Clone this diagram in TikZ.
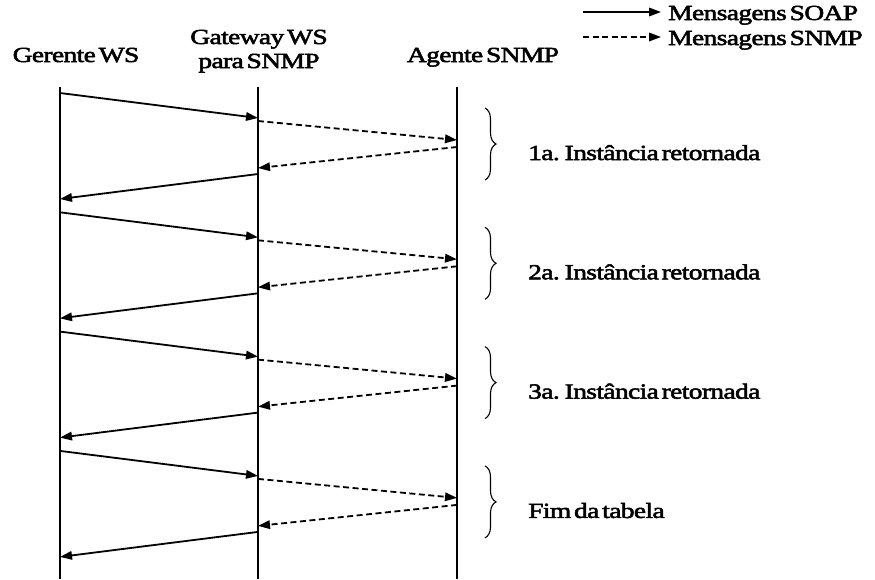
\documentclass[tikz,border=0pt]{standalone}
\usepackage{fontspec}
\setmainfont{Liberation Serif}[FakeStretch=1.28, LetterSpace=-3, WordSpace=0.45, FakeBold=2.5]
\usetikzlibrary{arrows.meta,decorations.pathreplacing}
\tikzset{
	soap/.style = {line width=1.8pt, -{Triangle[length=12pt,width=8.5pt]}},
	snmp/.style = {soap, dash pattern=on 6pt off 3.5pt},
	vida/.style = {line width=1.3pt},
	rotulo/.style = {font=\fontsize{21.5}{24}\selectfont, inner sep=0pt},
	chave/.style = {decorate, decoration={brace, amplitude=11pt}, line width=1.1pt}
}
\begin{document}
\begin{tikzpicture} [x = 1pt, y = -1pt]
	\useasboundingbox (0,0) rectangle (875,579);
	% participantes
	\node [rotulo, anchor = base] (gerente) at (76,62) {Gerente WS};
	\node [rotulo, anchor = base] (gateway) at (259,44) {Gateway WS};
	\node [rotulo, anchor = base] (gateway2) at (259,68) {para SNMP};
	\node [rotulo, anchor = base] (agente) at (483,62) {Agente SNMP};
	% linhas de vida
	\coordinate (ger0) at (60,87);
	\coordinate (ger1) at (60,579);
	\coordinate (gat0) at (258,87);
	\coordinate (gat1) at (258,579);
	\coordinate (age0) at (457,87);
	\coordinate (age1) at (457,579);
	\draw [vida] (ger0) -- (ger1);
	\draw [vida] (gat0) -- (gat1);
	\draw [vida] (age0) -- (age1);
	% legenda
	\coordinate (leg0) at (583,12);
	\coordinate (leg1) at (661,12);
	\coordinate (leg2) at (583,37);
	\coordinate (leg3) at (661,37);
	\draw [soap] (leg0) -- (leg1);
	\draw [snmp] (leg2) -- (leg3);
	\node [rotulo, anchor = base west] (soaptxt) at (668,20) {Mensagens SOAP};
	\node [rotulo, anchor = base west] (snmptxt) at (668,45) {Mensagens SNMP};
	% ciclos de pedido e resposta
	\foreach \i/\txt in {0/1a. Instância retornada, 1/2a. Instância retornada, 2/3a. Instância retornada, 3/Fim da tabela} {
		\pgfmathsetmacro{\ybase}{93+119.3*\i}
		\coordinate (p\i a) at (60,\ybase);
		\coordinate (p\i b) at (258,\ybase+25);
		\coordinate (p\i c) at (258,\ybase+28);
		\coordinate (p\i d) at (457,\ybase+47);
		\coordinate (p\i e) at (457,\ybase+54);
		\coordinate (p\i f) at (258,\ybase+75);
		\coordinate (p\i g) at (258,\ybase+81);
		\coordinate (p\i h) at (60,\ybase+106);
		\coordinate (c\i a) at (485,\ybase+15);
		\coordinate (c\i b) at (485,\ybase+87);
		\draw [soap] (p\i a) -- (p\i b);
		\draw [snmp] (p\i c) -- (p\i d);
		\draw [snmp] (p\i e) -- (p\i f);
		\draw [soap] (p\i g) -- (p\i h);
		\draw [chave] (c\i a) -- (c\i b);
		\node [rotulo, anchor = base west] (r\i) at (528,\ybase+67) {\txt};
	}
\end{tikzpicture}
\end{document}
